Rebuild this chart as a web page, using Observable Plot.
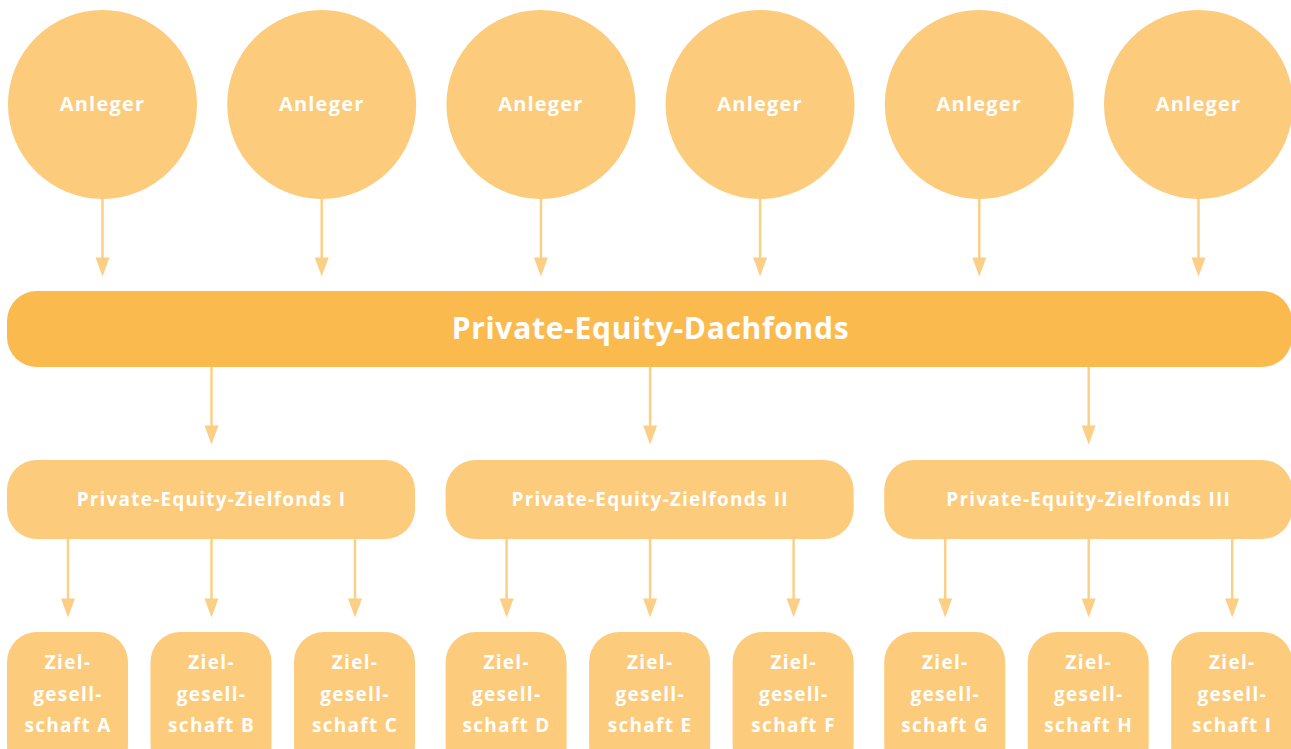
<!DOCTYPE html>
<html>
<head>
<meta charset="utf-8">
<script src="https://cdn.jsdelivr.net/npm/d3@7"></script>
<script src="https://cdn.jsdelivr.net/npm/@observablehq/plot@0.6"></script>
<style>
  html, body { margin: 0; padding: 0; background: #ffffff; }
  #chart svg { display: block; }
</style>
</head>
<body>
<div id="chart"></div>
<script>
// ---- Data ----
const investors = ["Anleger", "Anleger", "Anleger", "Anleger", "Anleger", "Anleger"];
const fundOfFunds = ["Private-Equity-Dachfonds"];
const targetFunds = ["Private-Equity-Zielfonds I", "Private-Equity-Zielfonds II", "Private-Equity-Zielfonds III"];
const companyLetters = ["A", "B", "C", "D", "E", "F", "G", "H", "I"];
const companyFund = [0, 0, 0, 1, 1, 1, 2, 2, 2];

// ---- Layout (pixel space) ----
const W = 1291, H = 749;
const investorX0 = 102, investorStep = 219.2, investorY = 104, investorR = 94.5;
const fundX0 = 211, fundStep = 438.6, fundHalfW = 204;
const compStep = 143.5, compHalfW = 60.5;
const barTop = 291, barBottom = 367;
const fundTop = 460, fundBottom = 539;
const compTop = 632, compBottom = 775;

const invNodes = investors.map((label, i) => ({label, x: investorX0 + i * investorStep}));
const fundNodes = targetFunds.map((label, j) => ({label, x: fundX0 + j * fundStep}));
const compNodes = companyLetters.map((L, i) => {
  const j = companyFund[i], k = i % 3;
  return {label: `Ziel-\ngesell-\nschaft ${L}`, x: fundX0 + j * fundStep + (k - 1) * compStep};
});

const arrows = [
  ...invNodes.map(d => ({x: d.x, y1: investorY + investorR - 1, y2: 276})),
  ...fundNodes.map(d => ({x: d.x, y1: barBottom, y2: 444})),
  ...compNodes.map(d => ({x: d.x, y1: fundBottom, y2: 617}))
];

const headSymbol = {
  draw(ctx) {
    ctx.moveTo(-7, -19);
    ctx.lineTo(7, -19);
    ctx.lineTo(0, 0);
    ctx.closePath();
  }
};

const light = "#FCCB7B";
const strong = "#FBBA4E";
const arrowColor = "#FCCF86";
const font = "'Open Sans', 'DejaVu Sans', sans-serif";

const chart = Plot.plot({
  width: W,
  height: H,
  margin: 0,
  x: {domain: [0, W], range: [0, W], axis: null},
  y: {domain: [0, H], range: [0, H], axis: null},
  style: {background: "#ffffff"},
  marks: [
    // arrows
    Plot.ruleX(arrows, {x: "x", y1: "y1", y2: d => d.y2 - 17, stroke: arrowColor, strokeWidth: 2.5}),
    Plot.dot(arrows, {x: "x", y: "y2", symbol: headSymbol, fill: arrowColor, stroke: null}),
    // investors
    Plot.dot(invNodes, {x: "x", y: () => investorY, r: investorR, fill: light, stroke: null}),
    Plot.text(invNodes, {x: "x", y: () => investorY, text: "label", fill: "#ffffff", fontSize: 20, fontWeight: 700, fontFamily: font}),
    // fund of funds bar
    Plot.rect(fundOfFunds, {x1: () => 7, x2: () => 1292, y1: () => barTop, y2: () => barBottom, rx: 30, fill: strong}),
    Plot.text(fundOfFunds, {x: () => 650, y: () => (barTop + barBottom) / 2, text: d => d, fill: "#ffffff", fontSize: 30, fontWeight: 700, fontFamily: font}),
    // target funds
    Plot.rect(fundNodes, {x1: d => d.x - fundHalfW, x2: d => d.x + fundHalfW, y1: () => fundTop, y2: () => fundBottom, rx: 30, fill: light}),
    Plot.text(fundNodes, {x: "x", y: () => (fundTop + fundBottom) / 2, text: "label", fill: "#ffffff", fontSize: 19, fontWeight: 700, fontFamily: font}),
    // target companies
    Plot.rect(compNodes, {x1: d => d.x - compHalfW, x2: d => d.x + compHalfW, y1: () => compTop, y2: () => compBottom, rx: 30, fill: light}),
    Plot.text(compNodes, {x: "x", y: () => 690, text: "label", lineHeight: 1.66, fill: "#ffffff", fontSize: 19, fontWeight: 700, fontFamily: font})
  ]
});

// letter spacing per text group (applied after render)
d3.select(chart).selectAll("text").each(function() {
  const t = this.textContent;
  let ls = null;
  if (t === "Anleger") ls = "1.2px";
  else if (t.includes("Dachfonds")) ls = "0.7px";
  else if (t.includes("Zielfonds")) ls = "1.2px";
  else if (t.includes("schaft") || t.includes("Ziel-") || t.includes("gesell")) ls = "1.3px";
  if (ls) this.style.letterSpacing = ls;
});

document.getElementById("chart").append(chart);
</script>
</body>
</html>
